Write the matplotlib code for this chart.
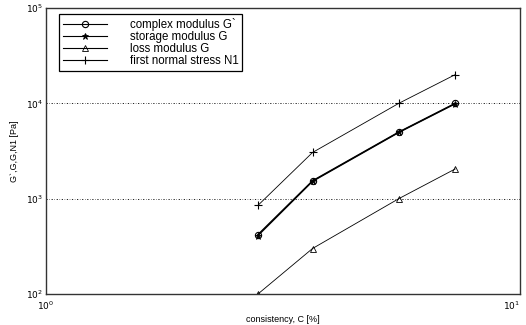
import matplotlib
matplotlib.use('Agg')
import matplotlib.pyplot as plt
from matplotlib.ticker import NullLocator

plt.rcParams['font.family'] = ['Liberation Sans', 'DejaVu Sans']

# consistency C [%]
consistency = [2.8, 3.65, 5.55, 7.3]
# moduli [Pa]
complex_mod = [420, 1540, 5000, 10000]
storage_mod = [410, 1520, 4950, 9900]
loss_mod = [100, 300, 1000, 2050]
normal_n1 = [850, 3050, 10000, 20000]

labels = ['complex modulus G`', 'storage modulus G', 'loss modulus G',
          'first normal stress N1']
xticks = [1, 10]
xticklabels = ['$10^{0}$', '$10^{1}$']
yticks = [1e2, 1e3, 1e4, 1e5]
yticklabels = ['$10^{2}$', '$10^{3}$', '$10^{4}$', '$10^{5}$']

fg = plt.figure(figsize=(5.26, 3.25), dpi=100)
ax = fg.add_axes([46/526, 1-294/325, 474/526, 286/325])

ax.plot(consistency, complex_mod, color='black', lw=1.0, marker='o',
        ms=4.5, mfc='none', mew=0.8, label=labels[0])
ax.plot(consistency, storage_mod, color='black', lw=1.0, marker='*',
        ms=5, mew=0.6, label=labels[1])
ax.plot(consistency, loss_mod, color='black', lw=0.6, marker='^',
        ms=4.5, mfc='none', mew=0.6, label=labels[2])
ax.plot(consistency, normal_n1, color='black', lw=0.6, marker='+',
        ms=6, mew=0.8, label=labels[3])

ax.set_xscale('log')
ax.set_yscale('log')
ax.set_xlim(1, 10)
ax.set_ylim(1e2, 1e5)
ax.set_xticks(xticks, xticklabels)
ax.set_yticks(yticks, yticklabels)
ax.xaxis.set_minor_locator(NullLocator())
ax.yaxis.set_minor_locator(NullLocator())

# grid only at interior decades
for yv in yticks[1:-1]:
    ax.axhline(yv, color='black', lw=0.6, ls=(0, (1.5, 2, 0.6, 2)), zorder=0)

ax.tick_params(which='both', direction='in', length=0, labelsize=6.5)
ax.tick_params(axis='x', pad=4)
ax.tick_params(axis='y', pad=2)
for sp in ax.spines.values():
    sp.set_linewidth(1.0)
    sp.set_color('#333333')

# keep the right edge label inside the picture
ax.get_xticklabels()[-1].set_ha('right')

ax.set_xlabel('consistency, C [%]', fontsize=6.5, labelpad=2)
ax.set_ylabel('G`,G,G,N1 [Pa]', fontsize=6.5, labelpad=5)

leg = ax.legend(loc='upper left', bbox_to_anchor=(0.027, 0.979),
                fontsize=8.3, handlelength=3.8, handletextpad=2.0,
                labelspacing=0.0, borderpad=0.35, borderaxespad=0,
                fancybox=False, framealpha=1, edgecolor='black')
leg.get_frame().set_linewidth(0.9)
for ln in leg.get_lines():
    ln.set_linewidth(0.8)

fg.savefig('out.png', dpi=100)
